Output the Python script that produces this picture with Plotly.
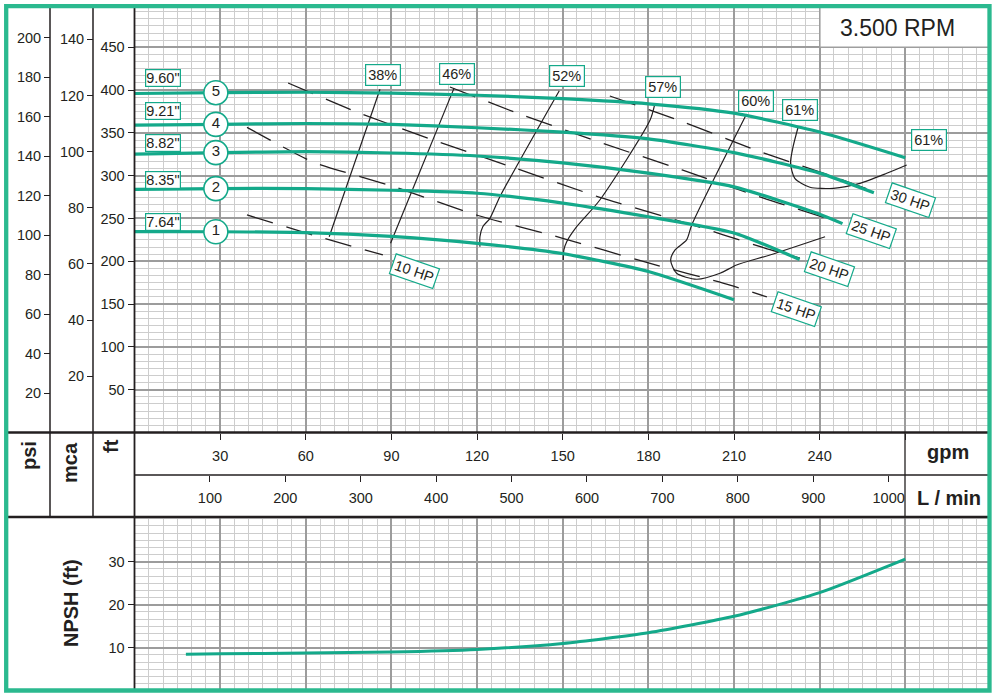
import numpy as np
import plotly.graph_objects as go

# ---------------- data ----------------
# impeller head curves (flow in gpm, head in ft)
imp_names = ['7.64"', '8.35"', '8.82"', '9.21"', '9.60"']
imp_numbers = ['1', '2', '3', '4', '5']
q_imp1 = [0, 30, 60, 90, 120, 150, 180, 210]
h_imp1 = [234.6, 234.5, 233.5, 229.0, 221.0, 209.0, 188.0, 155.0]
q_imp2 = [0, 30, 60, 90, 120, 150, 180, 210, 233]
h_imp2 = [284.0, 285.0, 285.0, 283.0, 279.5, 268.0, 252.0, 233.0, 202.0]
q_imp3 = [0, 30, 60, 90, 120, 150, 180, 210, 240, 248]
h_imp3 = [325.3, 327.0, 328.0, 326.5, 323.0, 315.0, 303.0, 287.0, 255.0, 244.0]
q_imp4 = [0, 30, 60, 90, 120, 150, 180, 210, 240, 259]
h_imp4 = [359.0, 360.0, 361.0, 360.0, 356.0, 351.0, 343.0, 327.0, 303.0, 280.0]
q_imp5 = [0, 30, 60, 90, 120, 150, 180, 210, 240, 270]
h_imp5 = [396.0, 397.0, 397.5, 396.5, 394.0, 390.0, 384.0, 373.0, 351.0, 321.0]

# iso-efficiency curves
eff_labels = ['38%', '46%', '52%', '57%', '60%', '61%']
q_eff38 = [86.0, 68.2]
h_eff38 = [401.0, 228.7]
q_eff46 = [111.9, 89.7]
h_eff46 = [402.0, 221.0]
q_eff52 = [148.8, 128.0, 124.5, 122.0, 121.0, 121.0]
h_eff52 = [399.3, 275.5, 250.2, 240.4, 228.7, 217.1]
q_eff57 = [182.3, 180.6, 163.0, 154.9, 151.4, 150.4, 150.2]
h_eff57 = [384.6, 365.0, 271.6, 240.4, 222.9, 213.2, 201.5]
q_eff60 = [214.4, 195.2, 193.4, 189.3, 187.8, 189.9, 196.9, 205.1, 210.9, 222.6, 241.9]
h_eff60 = [372.0, 242.4, 225.0, 213.0, 201.5, 186.0, 179.0, 186.0, 195.7, 207.4, 228.7]
q_eff61 = [232.5, 230.7, 229.8, 231.3, 236.6, 244.8, 254.1, 263.5, 270.5]
h_eff61 = [357.2, 333.9, 314.5, 297.0, 286.5, 285.3, 291.1, 302.8, 312.5]

# constant power lines
hp_labels = ['10 HP', '15 HP', '20 HP', '25 HP', '30 HP']
q_hp10 = [39.4, 63.6, 87.0]
h_hp10 = [254.1, 229.6, 207.4]
q_hp15 = [39.4, 62.5, 91.2, 120.3, 149.7, 178.8, 208.6, 221.5]
h_hp15 = [356.4, 316.0, 286.8, 253.5, 227.2, 199.2, 172.3, 158.3]
q_hp20 = [53.8, 76.9, 105.6, 134.3, 162.7, 192.1, 220.8, 233.1]
h_hp20 = [408.3, 375.6, 340.5, 307.8, 275.1, 245.9, 215.5, 203.8]
q_hp25 = [110.5, 134.0, 162.7, 191.8, 220.1, 247.8]
h_hp25 = [403.6, 373.2, 339.4, 306.7, 274.0, 244.7]
q_hp30 = [166.5, 190.4, 218.4, 247.1, 260.4]
h_hp30 = [393.1, 365.1, 328.9, 296.2, 279.8]

# NPSH required
q_npsh = [18, 30, 60, 90, 120, 150, 180, 210, 240, 270]
npsh = [8.5, 8.6, 8.75, 9.0, 9.6, 11.0, 13.5, 17.3, 22.8, 30.6]

# axis ticks
gpm_ticks = [30, 60, 90, 120, 150, 180, 210, 240, 270]
gpm_text = ['30', '60', '90', '120', '150', '180', '210', '240', '']
lmin_ticks = [100, 200, 300, 400, 500, 600, 700, 800, 900, 1000]
ft_ticks = [50, 100, 150, 200, 250, 300, 350, 400, 450]
mca_ticks = [20, 40, 60, 80, 100, 120, 140]
psi_ticks = [20, 40, 60, 80, 100, 120, 140, 160, 180, 200]
npsh_ticks = [10, 20, 30]

# ---------------- styling / layout helpers ----------------
W, H = 998, 698
TEAL = '#14a98a'
BORDER = '#2bb98f'
INK = '#231f20'
MAJ = '#9c9c9c'
MIN = '#cdcdcd'
FONT = 'Liberation Sans, Arial, Helvetica, sans-serif'


def px(x):
    return x / W


def py(y):
    return 1 - y / H


X_DOM = [px(134.5), px(989.5)]
X_RANGE = [0, 299.5]
FT_RANGE = [0, 498.0]
NPSH_RANGE = [0, 40.4]

fig = go.Figure()

# efficiency curves
for q, h in [(q_eff38, h_eff38), (q_eff46, h_eff46), (q_eff52, h_eff52),
             (q_eff57, h_eff57), (q_eff60, h_eff60), (q_eff61, h_eff61)]:
    fig.add_trace(go.Scatter(x=q, y=h, mode='lines', hoverinfo='skip', showlegend=False,
                             line=dict(color=INK, width=1.2, shape='spline', smoothing=0.7),
                             xaxis='x', yaxis='y'))

# power lines
for q, h in [(q_hp10, h_hp10), (q_hp15, h_hp15), (q_hp20, h_hp20),
             (q_hp25, h_hp25), (q_hp30, h_hp30)]:
    fig.add_trace(go.Scatter(x=q, y=h, mode='lines', hoverinfo='skip', showlegend=False,
                             line=dict(color=INK, width=1.3, dash='27px,14px',
                                       shape='spline', smoothing=0.5),
                             xaxis='x', yaxis='y'))

# head curves
imp_q = [q_imp1, q_imp2, q_imp3, q_imp4, q_imp5]
imp_h = [h_imp1, h_imp2, h_imp3, h_imp4, h_imp5]
for q, h in zip(imp_q, imp_h):
    fig.add_trace(go.Scatter(x=q, y=h, mode='lines', hoverinfo='skip', showlegend=False,
                             line=dict(color=TEAL, width=3.2, shape='spline', smoothing=0.6),
                             xaxis='x', yaxis='y'))

# numbered circles on curves
q_mark = 28.5
fig.add_trace(go.Scatter(
    x=[q_mark] * 5, y=[float(np.interp(q_mark, q, h)) for q, h in zip(imp_q, imp_h)],
    mode='markers+text', text=imp_numbers, textposition='middle center',
    textfont=dict(family=FONT, size=15, color=INK),
    marker=dict(size=24, color='white', line=dict(color=TEAL, width=1.6)),
    hoverinfo='skip', showlegend=False, xaxis='x', yaxis='y'))

# NPSH curve
fig.add_trace(go.Scatter(x=q_npsh, y=npsh, mode='lines', hoverinfo='skip', showlegend=False,
                         line=dict(color=TEAL, width=3, shape='spline', smoothing=0.6),
                         xaxis='x2', yaxis='y4'))

# invisible traces to materialise the secondary axes
fig.add_trace(go.Scatter(x=[None], y=[None], xaxis='x', yaxis='y2', showlegend=False, hoverinfo='skip'))
fig.add_trace(go.Scatter(x=[None], y=[None], xaxis='x', yaxis='y3', showlegend=False, hoverinfo='skip'))
fig.add_trace(go.Scatter(x=[None], y=[None], xaxis='x3', yaxis='y', showlegend=False, hoverinfo='skip'))

tickfont = dict(family=FONT, size=14.5, color=INK)
grid_x = dict(showgrid=True, gridcolor=MAJ, gridwidth=1.8, zeroline=False, showline=False,
              minor=dict(tickmode='linear', tick0=0, dtick=5, showgrid=True,
                         gridcolor=MIN, gridwidth=1.4, ticks=''))

fig.update_layout(
    width=W, height=H, autosize=False,
    margin=dict(l=0, r=0, t=0, b=0),
    paper_bgcolor='white', plot_bgcolor='white',
    font=dict(family=FONT, color=INK),
    xaxis=dict(domain=X_DOM, range=X_RANGE, anchor='y', tickmode='array',
               tickvals=gpm_ticks, ticktext=gpm_text, ticks='outside', ticklen=6,
               tickwidth=1.3, tickcolor=INK, tickfont=tickfont, ticklabelstandoff=4,
               **grid_x),
    xaxis2=dict(domain=X_DOM, range=X_RANGE, anchor='y4', tickmode='array',
                tickvals=gpm_ticks, showticklabels=False, ticks='', **grid_x),
    xaxis3=dict(overlaying='x', anchor='free', position=py(475), side='bottom',
                range=[X_RANGE[0] * 3.78541, X_RANGE[1] * 3.78541], tickmode='array',
                tickvals=lmin_ticks, ticks='outside', ticklen=6, tickwidth=1.3,
                tickcolor=INK, tickfont=tickfont, showgrid=False, zeroline=False,
                showline=False, ticklabelstandoff=4),
    yaxis=dict(domain=[py(432.5), py(6.2)], range=FT_RANGE, anchor='x', tickmode='array',
               tickvals=ft_ticks, ticks='outside', ticklen=6, tickwidth=1.3, tickcolor=INK,
               tickfont=tickfont, showgrid=True, gridcolor=MAJ, gridwidth=1.8,
               zeroline=False, showline=False,
               minor=dict(tickmode='linear', tick0=0, dtick=50 / 6, showgrid=True,
                          gridcolor=MIN, gridwidth=1.4, ticks='')),
    yaxis2=dict(overlaying='y', anchor='free', position=px(93), side='left',
                range=[FT_RANGE[0] / 3.28084, FT_RANGE[1] / 3.28084], tickmode='array',
                tickvals=mca_ticks, ticks='outside', ticklen=6, tickwidth=1.3,
                tickcolor=INK, tickfont=tickfont, showgrid=False, zeroline=False,
                showline=False),
    yaxis3=dict(overlaying='y', anchor='free', position=px(50), side='left',
                range=[FT_RANGE[0] / 2.30666, FT_RANGE[1] / 2.30666], tickmode='array',
                tickvals=psi_ticks, ticks='outside', ticklen=6, tickwidth=1.3,
                tickcolor=INK, tickfont=tickfont, showgrid=False, zeroline=False,
                showline=False),
    yaxis4=dict(domain=[py(690.7), py(517)], range=NPSH_RANGE, anchor='x2', tickmode='array',
                tickvals=npsh_ticks, ticks='outside', ticklen=6, tickwidth=1.3, tickcolor=INK,
                tickfont=tickfont, showgrid=True, gridcolor=MAJ, gridwidth=1.8,
                zeroline=False, showline=False,
                minor=dict(tickmode='linear', tick0=0, dtick=10 / 6, showgrid=True,
                           gridcolor=MIN, gridwidth=1.4, ticks='')),
)

# ---------------- frame lines ----------------
shapes = []


def hline(y, x0, x1, w):
    shapes.append(dict(type='line', xref='paper', yref='paper', x0=px(x0), x1=px(x1),
                       y0=py(y), y1=py(y), line=dict(color=INK, width=w)))


def vline(x, y0, y1, w):
    shapes.append(dict(type='line', xref='paper', yref='paper', x0=px(x), x1=px(x),
                       y0=py(y0), y1=py(y1), line=dict(color=INK, width=w)))


hline(432.5, 6, 989.5, 2.6)
hline(517, 6, 989.5, 2.6)
hline(475, 134.5, 989.5, 1.3)
vline(905, 432.5, 517, 1.3)
vline(50, 6, 517, 1.5)
vline(93, 6, 517, 1.5)
vline(134.5, 6, 690.5, 1.8)
# RPM box
shapes.append(dict(type='rect', xref='paper', yref='paper', x0=px(820), x1=px(989.5),
                   y0=py(47), y1=py(6), fillcolor='white', line=dict(color='#a0a0a0', width=1.2)))
# outer green frame
shapes.append(dict(type='rect', xref='paper', yref='paper', x0=px(6.2), x1=px(989.5),
                   y0=py(690.5), y1=py(6.2), line=dict(color=BORDER, width=4.3)))
fig.update_layout(shapes=shapes)

# ---------------- text ----------------
ann = []


def label(text, x, y, size=14.5, angle=0, box=False, pad=1, bold=False):
    d = dict(text=('<b>%s</b>' % text) if bold else text, xref='paper', yref='paper',
             x=px(x), y=py(y), xanchor='center', yanchor='middle', showarrow=False,
             textangle=angle, font=dict(family=FONT, size=size, color=INK))
    if box:
        d.update(bgcolor='white', bordercolor=TEAL, borderwidth=1.2, borderpad=pad)
    ann.append(d)


label('3.500 RPM', 897, 28.5, size=23)
label('gpm', 948, 452, size=20, bold=True)
label('L / min', 949, 497.5, size=20, bold=True)
label('psi', 29, 456, size=20, angle=-90, bold=True)
label('mca', 70, 463, size=20, angle=-90, bold=True)
label('ft', 111, 446, size=20, angle=-90, bold=True)
label('NPSH (ft)', 71, 603, size=20, angle=-90, bold=True)

for name, yc in zip(imp_names[::-1], [78, 111, 143.5, 180, 222.5]):
    label(name, 163, yc, size=14.5, box=True, pad=0)

for t, (xc, yc) in zip(['38%', '46%', '52%', '57%', '60%', '61%', '61%'],
                       [(382.5, 75.5), (457, 74.5), (567, 76), (662.5, 86.5),
                        (755.5, 101), (800, 110), (928.5, 140)]):
    label(t, xc, yc, size=14.5, box=True, pad=2)

for t, (xc, yc) in zip(hp_labels, [(414, 271), (796, 308.5), (829, 269), (871, 230.5), (910, 200)]):
    label(t, xc, yc, size=14.5, angle=19, box=True, pad=2)

fig.update_layout(annotations=ann)

fig.write_html('out.html', config={'displayModeBar': False},
               post_script="document.body.style.margin='0px';document.body.style.overflow='hidden';")
